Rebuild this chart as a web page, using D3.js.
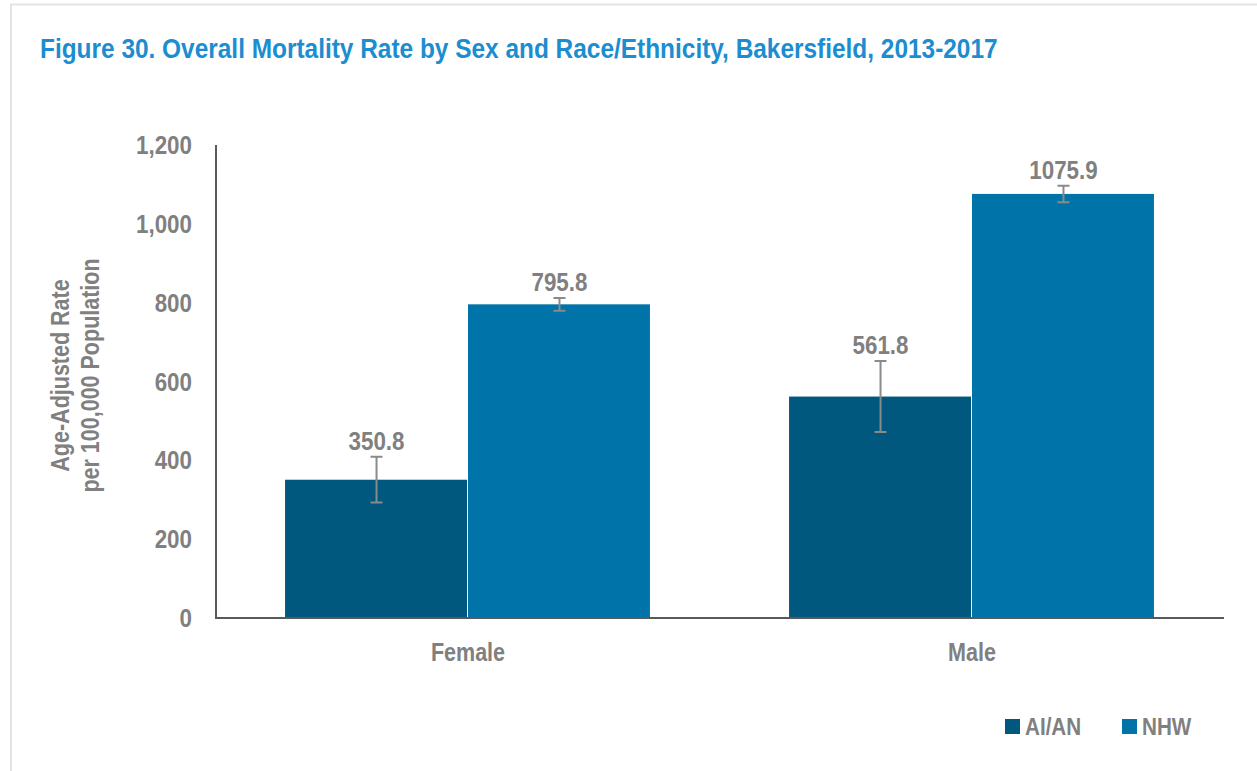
<!DOCTYPE html>
<html>
<head>
<meta charset="utf-8">
<script src="https://cdn.jsdelivr.net/npm/d3@7"></script>
<style>
  body { margin:0; background:#fff; }
  text { font-family:"Liberation Sans",Arial,sans-serif; font-weight:bold; }
</style>
</head>
<body>
<script>
const sexes = ["Female", "Male"]
const groups = ["AI/AN", "NHW"]
const aianRates = [350.8, 561.8]
const nhwRates = [795.8, 1075.9]
const aianErr = [58, 90]
const nhwErr = [16, 21]
const yTicks = [0, 200, 400, 600, 800, 1000, 1200]

const width = 1257, height = 771
const margin = {top:145, bottom:153, left:216, right:33}
const colors = {"AI/AN":"#00587e", "NHW":"#0073a8"}
const grey = "#808080"
const narrow = 0.86   // fake Arial Narrow by squeezing Liberation Sans

const rows = sexes.flatMap((s, i) => [
  {sex:s, group:"AI/AN", value:aianRates[i], err:aianErr[i]},
  {sex:s, group:"NHW", value:nhwRates[i], err:nhwErr[i]}
])

const svg = d3.select("body").append("svg")
  .attr("width", width).attr("height", height)

// frame
svg.append("path")
  .attr("d", `M11,${height} V4.5 H${width}`)
  .attr("fill", "none").attr("stroke", "#e3e3e3").attr("stroke-width", 2)

svg.append("text")
  .attr("x", 40).attr("y", 58)
  .attr("fill", "#1b8dd0").attr("font-size", 28.4)
  .text("Figure 30. Overall Mortality Rate by Sex and Race/Ethnicity, Bakersfield, 2013-2017")

const x = d3.scaleBand().domain(sexes)
  .range([margin.left, width - margin.right])
  .paddingInner(0.274).paddingOuter(0.137)
const xi = d3.scaleBand().domain(groups).range([0, x.bandwidth()])
const y = d3.scaleLinear().domain([0, 1200]).range([height - margin.bottom, margin.top])

// y tick labels
svg.append("g").selectAll("text")
  .data(yTicks).enter().append("text")
  .attr("x", 192).attr("y", d => y(d) + 9)
  .attr("text-anchor", "end").attr("fill", grey).attr("font-size", 26)
  .text(d => d3.format(",")(d))

// y axis title
const yt = svg.append("text")
  .attr("transform", `translate(0,${(margin.top + height - margin.bottom) / 2 - 6}) rotate(-90)`)
  .attr("text-anchor", "middle").attr("fill", grey).attr("font-size", 25)
yt.append("tspan").attr("x", 0).attr("y", 69).text("Age-Adjusted Rate")
yt.append("tspan").attr("x", 0).attr("y", 99).text("per 100,000 Population")

// bars
svg.append("g").selectAll("rect")
  .data(rows).enter().append("rect")
  .attr("x", d => x(d.sex) + xi(d.group))
  .attr("y", d => y(d.value))
  .attr("width", xi.bandwidth() - 1)
  .attr("height", d => y(0) - y(d.value))
  .attr("fill", d => colors[d.group])

// error bars
const eb = svg.append("g").attr("stroke", "#8a8a8a").attr("stroke-width", 2).attr("fill", "none")
rows.forEach(d => {
  const cx = x(d.sex) + xi(d.group) + xi.bandwidth() / 2
  eb.append("path")
    .attr("d", `M${cx},${y(d.value + d.err)} V${y(d.value - d.err)} M${cx - 6},${y(d.value + d.err)} H${cx + 6} M${cx - 6},${y(d.value - d.err)} H${cx + 6}`)
})

// value labels
svg.append("g").selectAll("text")
  .data(rows).enter().append("text")
  .attr("x", d => x(d.sex) + xi(d.group) + xi.bandwidth() / 2)
  .attr("y", d => y(d.value + d.err) - 7)
  .attr("text-anchor", "middle").attr("fill", grey).attr("font-size", 26)
  .text(d => d.value.toFixed(1))

// axes lines
svg.append("path")
  .attr("d", `M${margin.left},${margin.top} V${y(0)} H${width - margin.right}`)
  .attr("fill", "none").attr("stroke", "#595959").attr("stroke-width", 2)

// category labels
svg.append("g").selectAll("text")
  .data(sexes).enter().append("text")
  .attr("x", d => x(d) + x.bandwidth() / 2).attr("y", 661)
  .attr("text-anchor", "middle").attr("fill", grey).attr("font-size", 25)
  .text(d => d)

// legend
const legX = [1005, 1122]
const leg = svg.append("g").selectAll("g")
  .data(groups).enter().append("g")
  .attr("transform", (d, i) => `translate(${legX[i]},719)`)
leg.append("rect").attr("width", 15).attr("height", 15).attr("fill", d => colors[d])
leg.append("text").attr("x", 20).attr("y", 16)
  .attr("fill", grey).attr("font-size", 24).text(d => d)

// squeeze all text horizontally
svg.selectAll("text").each(function() {
  const t = d3.select(this)
  const spans = t.selectAll("tspan")
  const targets = spans.empty() ? [this] : spans.nodes()
  targets.forEach(n => {
    const len = n.getComputedTextLength()
    d3.select(n).attr("textLength", len * narrow).attr("lengthAdjust", "spacingAndGlyphs")
  })
})
</script>
</body>
</html>
